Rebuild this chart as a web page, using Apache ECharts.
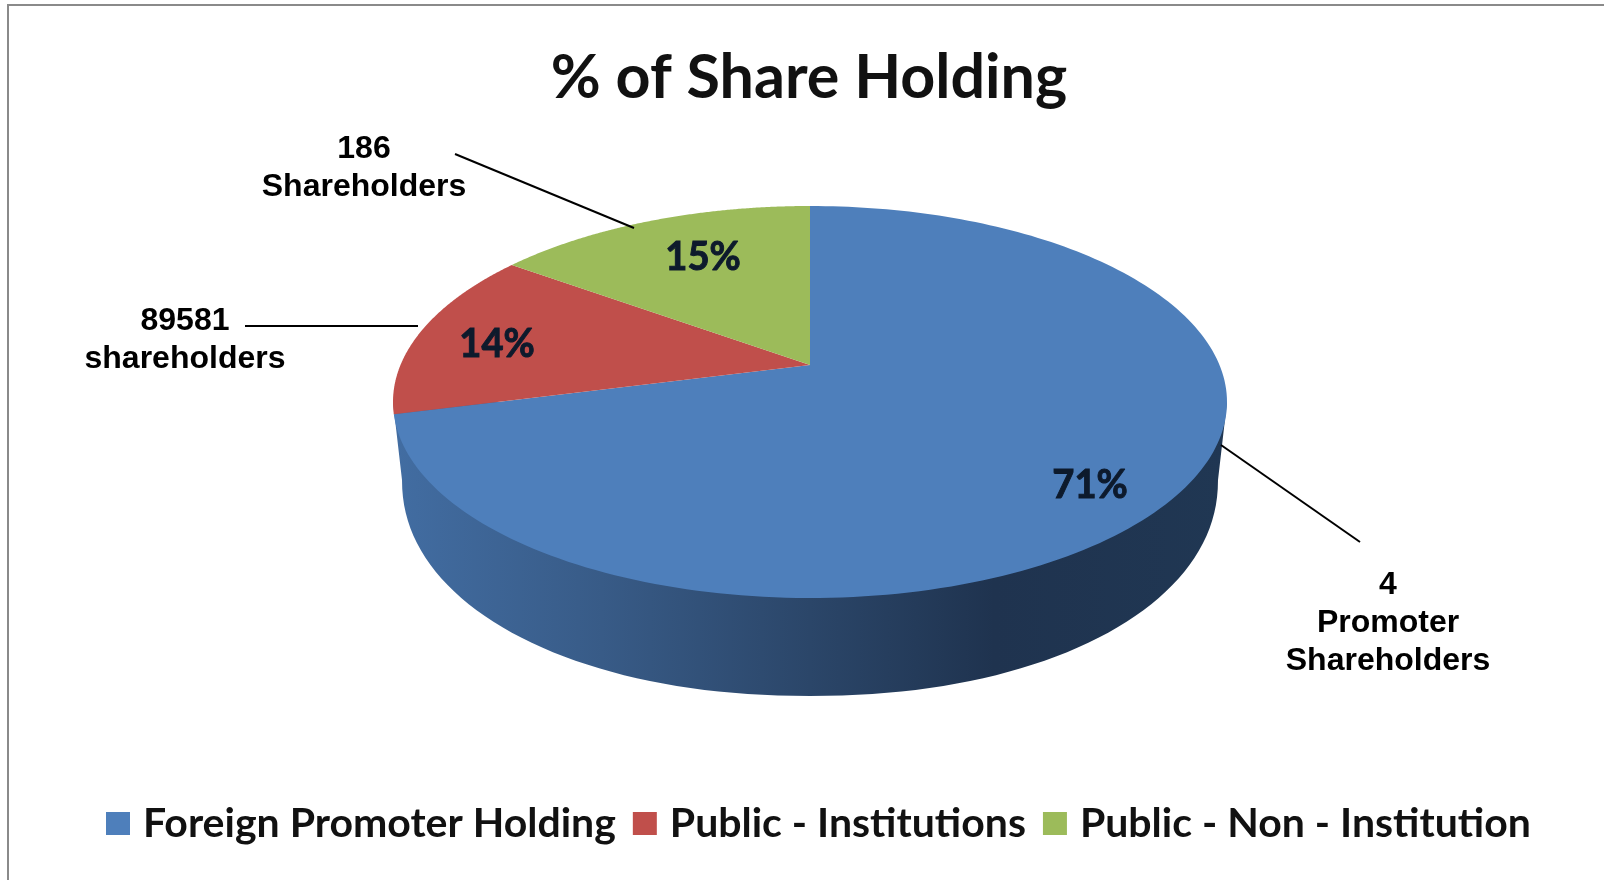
<!DOCTYPE html>
<html>
<head>
<meta charset="utf-8">
<title>% of Share Holding</title>
<script src="https://cdn.jsdelivr.net/npm/echarts@6/dist/echarts.min.js"></script>
<style>
  html, body { margin: 0; padding: 0; background: #fff; }
  #main { width: 1604px; height: 880px; }
</style>
</head>
<body>
<div id="main"></div>
<script>
// data
var categories = ['Foreign Promoter Holding', 'Public - Institutions', 'Public - Non - Institution'];
var shares = [71, 14, 15];
var colors = ['#4e7fbb', '#c04f4b', '#9cbb5a'];
var shareholderNotes = ['4\nPromoter\nShareholders', '89581\nshareholders', '186\nShareholders'];

// layout of the tilted disc, in page px
var disc = { cx: 810, cy: 402, rx: 417, ry: 196, apexY: 365 };
var base = { cx: 810, cy: 480, rx: 408, ry: 216, power: 2.1 };
var percentAt = [[1090, 485], [497, 344], [703, 257]];
var total = shares.reduce(function (a, b) { return a + b; }, 0);

// rim point of the disc; the hub sits behind the ellipse centre because of the perspective
function rimPoint(share) {
  var t = share / total * Math.PI * 2;
  var k = (disc.apexY - disc.cy) / disc.ry;
  var u = Math.sin(t);
  var v = -Math.cos(t);
  var d = 1 + k * v;
  return [
    disc.cx + disc.rx * u * Math.sqrt(1 - k * k) / d,
    disc.cy + disc.ry * (v + k) / d
  ];
}

function sidePoints() {
  var pts = [[disc.cx - disc.rx, disc.cy]];
  for (var a = 180; a >= 0; a -= 2) {
    var r = a * Math.PI / 180;
    var c = Math.cos(r);
    var s = Math.sin(r);
    pts.push([
      base.cx + base.rx * (c < 0 ? -1 : 1) * Math.pow(Math.abs(c), 2 / base.power),
      base.cy + base.ry * Math.pow(s, 2 / base.power)
    ]);
  }
  pts.push([disc.cx + disc.rx, disc.cy]);
  return pts;
}

function sliceSeries(index) {
  var before = shares.slice(0, index).reduce(function (a, b) { return a + b; }, 0);
  return {
    type: 'custom',
    name: categories[index],
    coordinateSystem: 'none',
    itemStyle: { color: colors[index] },
    data: [shares[index]],
    renderItem: function (params, api) {
      var value = api.value(0);
      var pts = [[disc.cx, disc.apexY]];
      for (var s = 0; s <= 200; s++) {
        pts.push(rimPoint(before + value * s / 200));
      }
      var children = [];
      if (index === 0) {
        children.push({
          type: 'polygon',
          shape: { points: sidePoints() },
          style: {
            fill: new echarts.graphic.LinearGradient(0, 0, 1, 0, [
              { offset: 0, color: '#426da2' },
              { offset: 0.25, color: '#385b87' },
              { offset: 0.5, color: '#2b4669' },
              { offset: 0.72, color: '#1f334f' },
              { offset: 1, color: '#203753' }
            ])
          }
        });
      }
      children.push({
        type: 'polygon',
        shape: { points: pts },
        style: { fill: colors[index] }
      });
      children.push({
        type: 'text',
        x: percentAt[index][0],
        y: percentAt[index][1],
        scaleX: 0.93,
        style: {
          text: value + '%',
          fill: '#0d1a2c',
          stroke: '#0d1a2c',
          lineWidth: 1,
          font: 'bold 41px Lato',
          align: 'center',
          verticalAlign: 'middle'
        }
      });
      return { type: 'group', children: children };
    }
  };
}

function note(text, x, y) {
  return {
    type: 'text',
    z: 10,
    x: x,
    y: y,
    style: {
      text: text,
      fill: '#000',
      font: 'bold 32px "Liberation Sans"',
      lineHeight: 38,
      align: 'center',
      verticalAlign: 'middle'
    }
  };
}

function leader(x1, y1, x2, y2) {
  return {
    type: 'line',
    z: 10,
    shape: { x1: x1, y1: y1, x2: x2, y2: y2 },
    style: { stroke: '#000', lineWidth: 2 }
  };
}

var chart = echarts.init(document.getElementById('main'));
chart.setOption({
  backgroundColor: '#fff',
  animation: false,
  title: {
    text: '% of Share Holding',
    left: 804,
    top: 43,
    textAlign: 'center',
    textStyle: { fontFamily: 'Lato', fontWeight: 'bold', fontSize: 61, color: '#111' }
  },
  legend: {
    data: categories,
    left: 106,
    top: 803,
    padding: 0,
    itemWidth: 24,
    itemHeight: 23,
    itemGap: 17,
    icon: 'rect',
    selectedMode: false,
    textStyle: { fontFamily: 'Lato', fontWeight: 'bold', fontSize: 41, color: '#111', padding: [0, 0, 0, 8] }
  },
  graphic: [
    { type: 'rect', silent: true, shape: { x: 8, y: 5, width: 1800, height: 1000 }, style: { fill: 'none', stroke: '#8a8a8a', lineWidth: 2 } },
    leader(1221, 445, 1360, 542),
    leader(245, 326, 418, 326),
    leader(455, 154, 634, 228),
    note(shareholderNotes[0], 1388, 623),
    note(shareholderNotes[1], 185, 340),
    note(shareholderNotes[2], 364, 168)
  ],
  series: shares.map(function (v, i) { return sliceSeries(i); })
});
</script>
</body>
</html>
